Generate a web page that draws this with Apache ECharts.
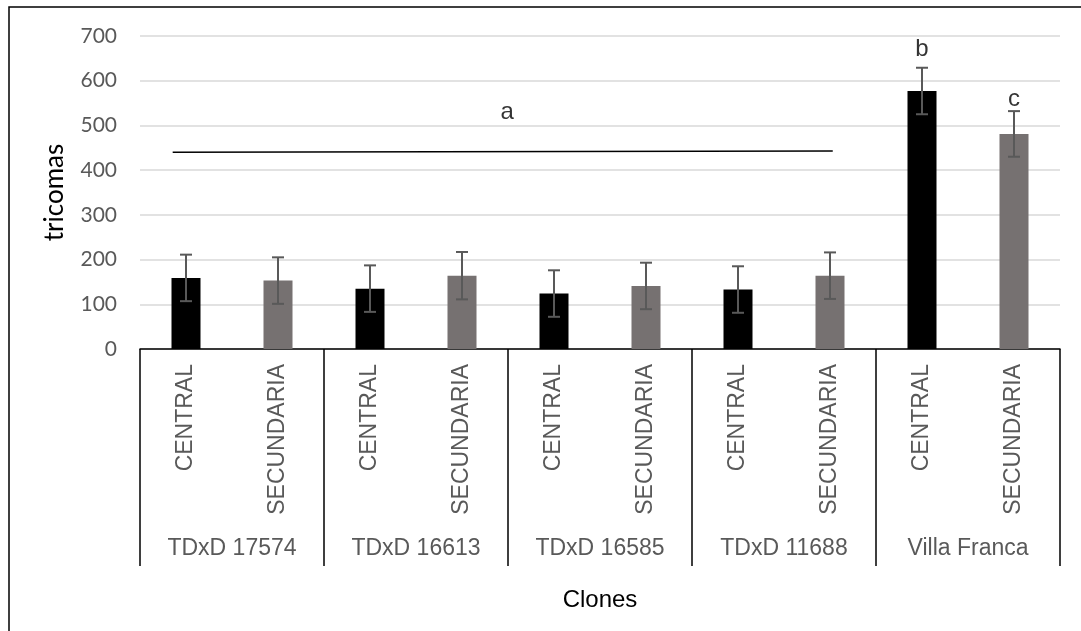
<!DOCTYPE html>
<html>
<head>
<meta charset="utf-8">
<script src="https://cdn.jsdelivr.net/npm/echarts@6/dist/echarts.min.js"></script>
<style>
html,body{margin:0;padding:0;background:#fff;}
#chart{width:1081px;height:631px;}
</style>
</head>
<body>
<div id="chart"></div>
<script>
// ---- data ----
var groups = ['TDxD 17574', 'TDxD 16613', 'TDxD 16585', 'TDxD 11688', 'Villa Franca'];
var subCategories = ['CENTRAL', 'SECUNDARIA', 'CENTRAL', 'SECUNDARIA', 'CENTRAL', 'SECUNDARIA', 'CENTRAL', 'SECUNDARIA', 'CENTRAL', 'SECUNDARIA'];
var means = [159, 153, 135, 164, 124, 141, 133, 164, 577, 481];
var errors = [52, 52, 52, 53, 52, 52, 52, 52, 52, 51];
var yTicks = [0, 100, 200, 300, 400, 500, 600, 700];
// significance line "a" (x on a 0..10 slot scale, y in tricomas)
var sigLine = [[0.355, 440], [7.53, 443]];
var letters = ['a', 'b', 'c'];
var letterX = [3.99, 8.5, 9.5];
var letterY = [529, 669, 559];

var colorCentral = '#000000';
var colorSecundaria = '#767171';

var chart = echarts.init(document.getElementById('chart'), null, {renderer: 'canvas'});

var barData = means.map(function (v, i) {
  return {value: v, itemStyle: {color: subCategories[i] === 'CENTRAL' ? colorCentral : colorSecundaria}};
});
var errData = means.map(function (v, i) { return [i, v - errors[i], v + errors[i]]; });
var letterData = letters.map(function (l, i) { return {value: [letterX[i], letterY[i]], name: l}; });

var option = {
  animation: false,
  backgroundColor: '#ffffff',
  graphic: [{
    type: 'rect',
    shape: {x: 9, y: 7, width: 1200, height: 800},
    style: {fill: 'none', stroke: '#000000', lineWidth: 1.5},
    silent: true, z: -1
  }],
  grid: {left: 140, right: 21, top: 36, bottom: 282, containLabel: false},
  xAxis: [{
    type: 'category',
    data: subCategories,
    position: 'bottom',
    axisLine: {show: true, lineStyle: {color: '#000000', width: 1.5}},
    axisTick: {show: false},
    axisLabel: {rotate: 90, margin: 15, fontSize: 23, color: '#595959', fontFamily: 'Liberation Sans', interval: 0},
    splitLine: {show: false}
  }, {
    type: 'category',
    data: groups,
    position: 'bottom',
    axisLine: {show: false},
    axisTick: {show: true, length: 217, lineStyle: {color: '#000000', width: 1.5}},
    axisLabel: {margin: 188, fontSize: 23, color: '#595959', fontFamily: 'Liberation Sans', interval: 0},
    name: 'Clones',
    nameLocation: 'middle',
    nameGap: 239,
    nameTextStyle: {fontSize: 24, color: '#000000', fontFamily: 'Liberation Sans'},
    splitLine: {show: false}
  }, {
    type: 'value',
    min: 0, max: 10,
    show: false
  }],
  yAxis: [{
    type: 'value',
    min: yTicks[0],
    max: yTicks[yTicks.length - 1],
    interval: 100,
    name: 'tricomas',
    nameLocation: 'middle',
    nameGap: 72,
    nameTextStyle: {fontSize: 26, color: '#000000', fontFamily: 'Lato'},
    axisLine: {show: false},
    axisTick: {show: false},
    axisLabel: {fontSize: 21, color: '#595959', fontFamily: 'Lato', margin: 23},
    splitLine: {show: true, lineStyle: {color: '#d9d9d9', width: 1.5}}
  }],
  series: [{
    type: 'bar',
    xAxisIndex: 0,
    yAxisIndex: 0,
    data: barData,
    barWidth: 29,
    z: 2
  }, {
    type: 'custom',
    xAxisIndex: 0,
    yAxisIndex: 0,
    data: errData,
    z: 3,
    renderItem: function (params, api) {
      var x = api.value(0);
      var lo = api.coord([x, api.value(1)]);
      var hi = api.coord([x, api.value(2)]);
      var cap = 6;
      var st = {stroke: '#595959', lineWidth: 2};
      return {
        type: 'group',
        children: [
          {type: 'line', shape: {x1: lo[0], y1: lo[1], x2: hi[0], y2: hi[1]}, style: st},
          {type: 'line', shape: {x1: hi[0] - cap, y1: hi[1], x2: hi[0] + cap, y2: hi[1]}, style: st},
          {type: 'line', shape: {x1: lo[0] - cap, y1: lo[1], x2: lo[0] + cap, y2: lo[1]}, style: st}
        ]
      };
    }
  }, {
    type: 'line',
    xAxisIndex: 2,
    yAxisIndex: 0,
    data: sigLine,
    symbol: 'none',
    lineStyle: {color: '#000000', width: 1.5},
    z: 4
  }, {
    type: 'scatter',
    xAxisIndex: 2,
    yAxisIndex: 0,
    data: letterData,
    symbolSize: 0,
    label: {
      show: true,
      position: 'inside',
      formatter: function (p) { return p.name; },
      fontSize: 24,
      color: '#000000',
      fontFamily: 'Liberation Sans'
    },
    z: 5
  }]
};
chart.setOption(option);
</script>
</body>
</html>
